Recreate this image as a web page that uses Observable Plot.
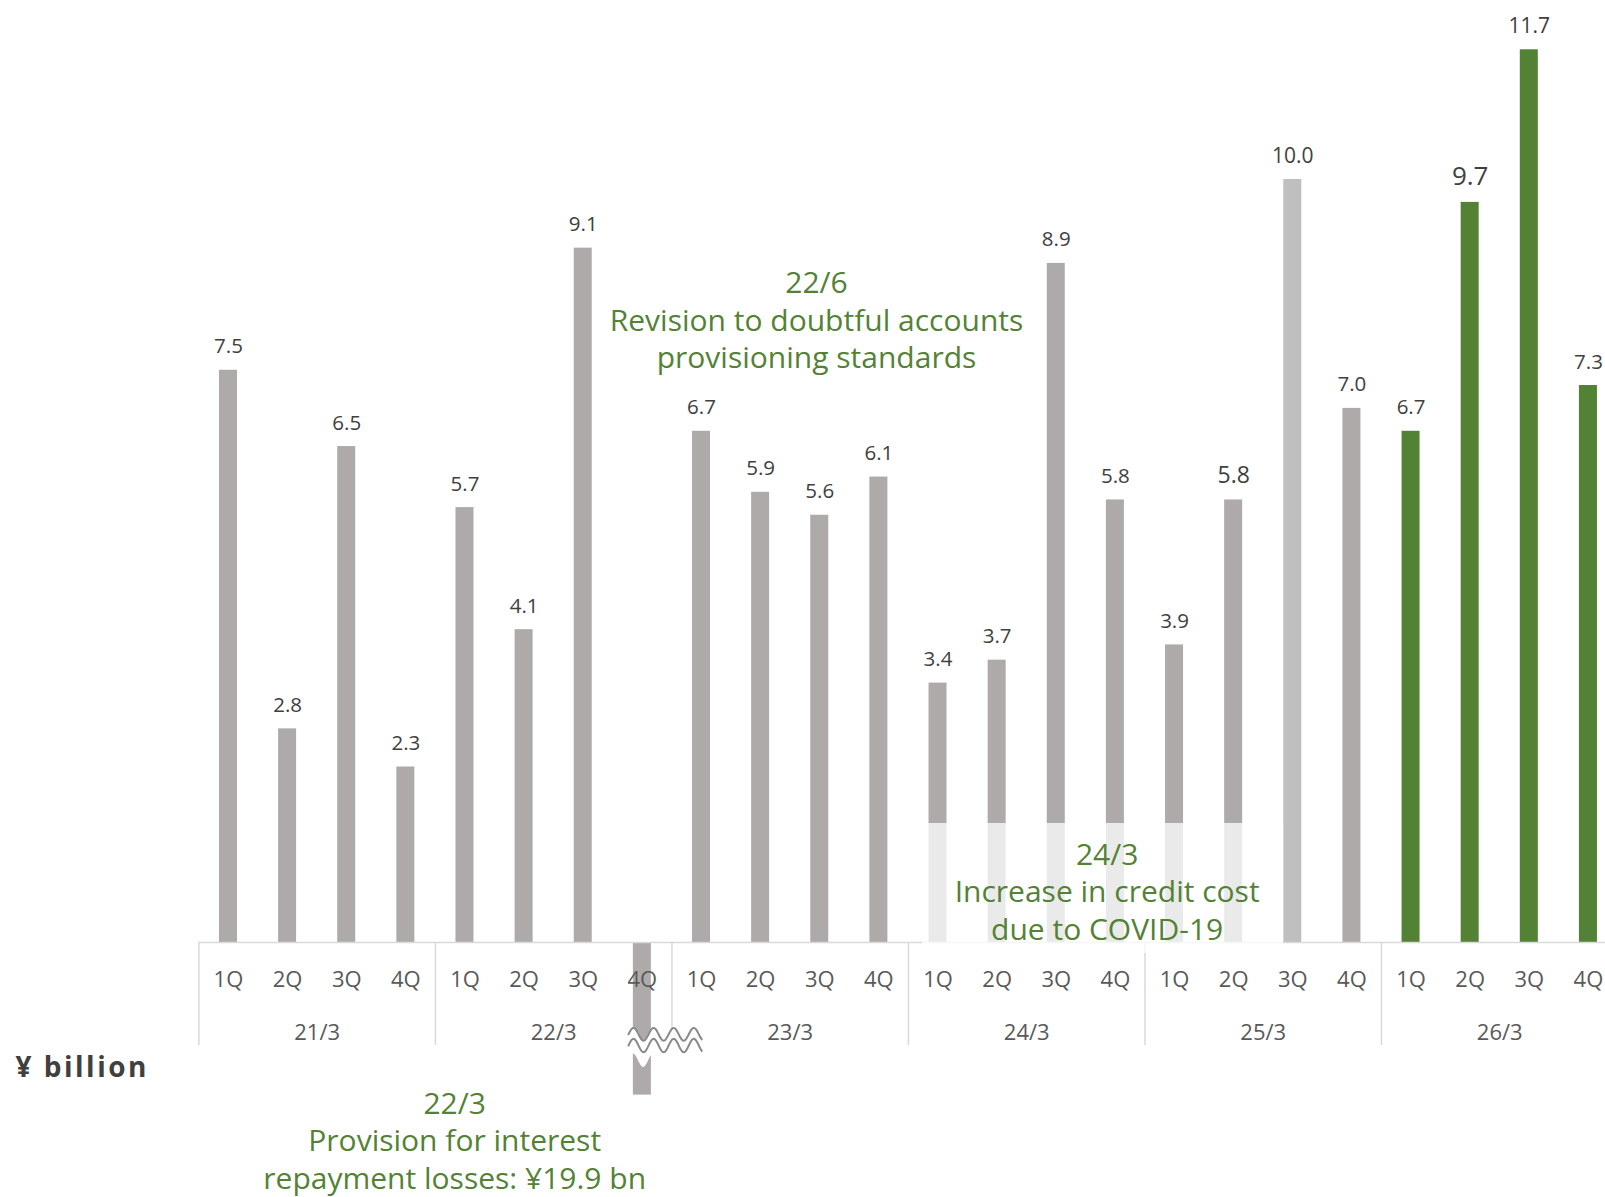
<!DOCTYPE html>
<html>
<head>
<meta charset="utf-8">
<script src="https://cdn.jsdelivr.net/npm/d3@7"></script>
<script src="https://cdn.jsdelivr.net/npm/@observablehq/plot@0.6"></script>
<style>
  html, body { margin: 0; padding: 0; background: #fff; }
  #chart { width: 1605px; height: 1197px; overflow: hidden; }
</style>
</head>
<body>
<div id="chart"></div>
<script>
// ---- data ----
const fiscalYears = ["21/3", "22/3", "23/3", "24/3", "25/3", "26/3"];
const quarters = ["1Q", "2Q", "3Q", "4Q"];
const values = [
  7.5, 2.8, 6.5, 2.3,    // 21/3
  5.7, 4.1, 9.1, -19.9,  // 22/3 (4Q off-scale, axis broken)
  6.7, 5.9, 5.6, 6.1,    // 23/3
  3.4, 3.7, 8.9, 5.8,    // 24/3
  3.9, 5.8, 10.0, 7.0,   // 25/3
  6.7, 9.7, 11.7, 7.3    // 26/3
];
const axisBreakAt = -2.0;          // value axis is broken below this
const unitLabel = "¥ billion";
const noteTexts = [
  "22/6\nRevision to doubtful accounts\nprovisioning standards",
  "24/3\nIncrease in credit cost\ndue to COVID-19",
  "22/3\nProvision for interest\nrepayment losses: ¥19.9 bn"
];

// ---- derived table ----
const rows = values.map((v, i) => ({
  i, fy: fiscalYears[Math.floor(i / 4)], q: quarters[i % 4], v,
  shown: Math.max(v, axisBreakAt)
}));

const GRAY = "#AEAAAA", LIGHT = "#BFBFBF", GREEN = "#548235";
const barFill = d => d.fy === "26/3" ? GREEN : (d.fy === "25/3" && d.q === "3Q") ? LIGHT : GRAY;
const labelSize = d =>
  (d.fy === "26/3" && d.q === "2Q") ? 26 :
  (d.fy === "25/3" && d.q === "2Q") ? 23 :
  (d.v >= 10 ? 21 : 20.5);

const n = values.length;
const groupStarts = d3.range(0, n + 1, 4);
const quarterTicks = d3.range(n).map(i => i + 0.5);
const groupTicks = fiscalYears.map((_, g) => g * 4 + 2);

// axis-break ornament (decorative wave across the broken bar)
const brokenIdx = rows.findIndex(d => d.v < axisBreakAt);
const waveX0 = brokenIdx + 0.265, waveX1 = brokenIdx + 1.515;
const wave = d3.range(waveX0, waveX1 + 1e-9, 0.02).map(x => {
  const s = Math.sin(2 * Math.PI * (x - waveX0) / 0.34);
  return {x, top: -1.203 + 0.084 * s, mid: -1.35 + 0.088 * s, bot: -1.55 + 0.088 * s};
});

const font = "'Open Sans', 'Noto Sans', sans-serif";

const chart = Plot.plot({
  width: 1605,
  height: 1197,
  marginTop: 0,
  marginBottom: 255,
  marginLeft: 0,
  marginRight: 0,
  style: {fontFamily: font, color: "#595959", background: "#fff", overflow: "hidden"},
  x: {type: "linear", domain: [0, 24], range: [198.4, 1617.5], axis: null, label: null},
  y: {domain: [0, 942 / 76.3], axis: null, label: null},
  marks: [
    // bars
    Plot.rectY(rows, {
      x1: d => d.i, x2: d => d.i + 1, y1: 0, y2: "shown",
      insetLeft: 20.56, insetRight: 20.56, fill: barFill
    }),
    // baseline
    Plot.ruleY([0], {x1: 0, x2: n, stroke: "#D9D9D9", strokeWidth: 1.5}),
    // group separators
    Plot.ruleX(groupStarts, {x: d => d, y1: 0, y2: -1.35, stroke: "#D9D9D9", strokeWidth: 1.5}),
    // 24/3 COVID highlight veil
    Plot.rect([0], {x1: 12.24, x2: 18.345, y1: -0.144, y2: 1.56, fill: "white", fillOpacity: 0.75}),
    // axis break ornament
    Plot.areaY(wave, {x: "x", y1: "top", y2: "bot", fill: "white"}),
    Plot.line(wave, {x: "x", y: "top", stroke: "#8a8a8a", strokeWidth: 2}),
    Plot.line(wave, {x: "x", y: "mid", stroke: "#8a8a8a", strokeWidth: 2}),
    // quarter axis
    Plot.axisX(quarterTicks, {
      anchor: "bottom", tickSize: 0, tickPadding: 29, label: null,
      tickFormat: t => quarters[Math.floor(t) % 4], fontSize: 22
    }),
    // fiscal-year axis
    Plot.axisX(groupTicks, {
      anchor: "bottom", tickSize: 0, tickPadding: 81.4, label: null,
      tickFormat: t => fiscalYears[(t - 2) / 4], fontSize: 22
    }),
    // value labels
    Plot.text(rows.filter(d => d.v >= 0), {
      x: d => d.i + 0.5, y: "v", text: d => d.v.toFixed(1),
      lineAnchor: "bottom", dy: -17, fontSize: labelSize, fill: "#404040"
    }),
    // unit label
    Plot.text([unitLabel], {
      frameAnchor: "left", y: -1.765, dx: 15, textAnchor: "start", lineAnchor: "bottom",
      fontSize: 28, fontWeight: "bold", fill: "#404040"
    }),
    // annotations
    Plot.text([noteTexts[0]], {x: 10.445, y: 7.527, lineAnchor: "bottom", lineHeight: 1.25, fontSize: 30, fill: GREEN}),
    Plot.text([noteTexts[1]], {x: 15.36, y: 0.035, lineAnchor: "bottom", lineHeight: 1.25, fontSize: 30, fill: GREEN}),
    Plot.text([noteTexts[2]], {x: 4.326, y: -3.228, lineAnchor: "bottom", lineHeight: 1.25, fontSize: 30, fill: GREEN})
  ]
});

d3.select(chart).selectAll("text")
  .filter(function () { return this.textContent === unitLabel; })
  .style("letter-spacing", "2.5px");

document.getElementById("chart").appendChild(chart);
</script>
</body>
</html>
